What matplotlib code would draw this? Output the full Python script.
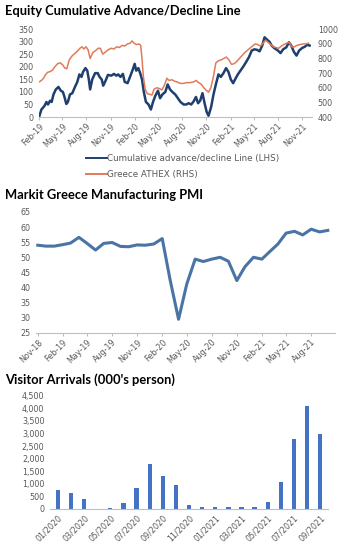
import matplotlib
matplotlib.use('Agg')
import matplotlib.pyplot as plt
import matplotlib.dates as mdates
import matplotlib.ticker as mticker
import pandas as pd

# ---- data: equity advance/decline line (LHS) ----
ad_dates = ['2019-02-01', '2019-02-10', '2019-02-22', '2019-03-01', '2019-03-07', '2019-03-15',
            '2019-03-21', '2019-03-28', '2019-04-06', '2019-04-16', '2019-04-25', '2019-05-03',
            '2019-05-09', '2019-05-16', '2019-05-22', '2019-05-30', '2019-06-08', '2019-06-18',
            '2019-06-27', '2019-07-05', '2019-07-13', '2019-07-19', '2019-07-28', '2019-08-04',
            '2019-08-10', '2019-08-15', '2019-08-23', '2019-09-03', '2019-09-13', '2019-09-20',
            '2019-09-28', '2019-10-04', '2019-10-13', '2019-10-22', '2019-11-04', '2019-11-14',
            '2019-11-23', '2019-11-30', '2019-12-09', '2019-12-18', '2019-12-25', '2020-01-05',
            '2020-01-16', '2020-01-25', '2020-02-01', '2020-02-07', '2020-02-15', '2020-02-22',
            '2020-02-29', '2020-03-07', '2020-03-15', '2020-03-25', '2020-04-03', '2020-04-11',
            '2020-04-20', '2020-04-30', '2020-05-08', '2020-05-17', '2020-05-28', '2020-06-06',
            '2020-06-15', '2020-06-24', '2020-07-05', '2020-07-15', '2020-07-25', '2020-08-06',
            '2020-08-16', '2020-08-25', '2020-09-04', '2020-09-13', '2020-09-22', '2020-09-30',
            '2020-10-08', '2020-10-17', '2020-10-25', '2020-11-02', '2020-11-09', '2020-11-19',
            '2020-11-28', '2020-12-07', '2020-12-17', '2020-12-26', '2021-01-05', '2021-01-15',
            '2021-01-24', '2021-02-02', '2021-02-11', '2021-02-21', '2021-03-01', '2021-03-11',
            '2021-03-21', '2021-04-02', '2021-04-13', '2021-04-23', '2021-05-03', '2021-05-13',
            '2021-05-23', '2021-06-02', '2021-06-11', '2021-06-21', '2021-06-30', '2021-07-08',
            '2021-07-18', '2021-08-01', '2021-08-11', '2021-08-21', '2021-09-02', '2021-09-12',
            '2021-09-21', '2021-10-01', '2021-10-11', '2021-10-21', '2021-11-01', '2021-11-11',
            '2021-11-21', '2021-11-30']
ad_values = [0, 30, 45, 60, 50, 65, 60, 90, 110, 120, 105, 100, 80, 52, 60, 90, 95, 120,
             140, 170, 160, 180, 195, 185, 150, 110, 150, 175, 175, 160, 150, 125, 145, 168,
             165, 172, 165, 170, 160, 172, 140, 135, 165, 190, 212, 185, 195, 175, 150, 100,
             60, 50, 30, 60, 85, 105, 75, 90, 100, 130, 110, 100, 90, 75, 60, 50, 50, 55, 50,
             62, 80, 55, 65, 95, 55, 20, 5, 40, 90, 130, 170, 160, 175, 195, 180, 150, 135,
             155, 170, 185, 200, 220, 240, 265, 270, 268, 262, 285, 318, 308, 300, 285, 275,
             265, 255, 270, 278, 298, 285, 260, 245, 265, 275, 280, 288, 285]

# ---- data: Greece ATHEX (RHS) ----
athex_dates = ['2019-02-01', '2019-02-10', '2019-02-18', '2019-02-26', '2019-03-05', '2019-03-14',
               '2019-03-24', '2019-04-03', '2019-04-13', '2019-04-23', '2019-05-03', '2019-05-10',
               '2019-05-18', '2019-05-27', '2019-06-08', '2019-06-18', '2019-06-27', '2019-07-07',
               '2019-07-15', '2019-07-22', '2019-07-30', '2019-08-07', '2019-08-15', '2019-08-25',
               '2019-09-05', '2019-09-15', '2019-09-23', '2019-10-02', '2019-10-13', '2019-10-23',
               '2019-11-04', '2019-11-14', '2019-11-24', '2019-12-05', '2019-12-15', '2019-12-25',
               '2020-01-05', '2020-01-15', '2020-01-22', '2020-01-30', '2020-02-07', '2020-02-17',
               '2020-02-24', '2020-02-29', '2020-03-05', '2020-03-12', '2020-03-20', '2020-03-30',
               '2020-04-07', '2020-04-15', '2020-04-25', '2020-05-05', '2020-05-15', '2020-05-25',
               '2020-06-03', '2020-06-12', '2020-06-22', '2020-07-02', '2020-07-12', '2020-07-24',
               '2020-08-06', '2020-08-18', '2020-08-31', '2020-09-13', '2020-09-23', '2020-10-02',
               '2020-10-12', '2020-10-22', '2020-11-02', '2020-11-09', '2020-11-18', '2020-11-28',
               '2020-12-07', '2020-12-17', '2020-12-27', '2021-01-06', '2021-01-16', '2021-01-26',
               '2021-02-05', '2021-02-15', '2021-02-25', '2021-03-07', '2021-03-17', '2021-03-27',
               '2021-04-06', '2021-04-16', '2021-04-26', '2021-05-06', '2021-05-16', '2021-05-26',
               '2021-06-05', '2021-06-15', '2021-06-25', '2021-07-05', '2021-07-15', '2021-07-25',
               '2021-08-04', '2021-08-14', '2021-08-24', '2021-09-03', '2021-09-13', '2021-09-23',
               '2021-10-03', '2021-10-13', '2021-10-23', '2021-11-06', '2021-11-16', '2021-11-26']
athex_values = [640, 650, 665, 690, 705, 710, 720, 745, 765, 770, 755, 735, 730, 790, 820, 835,
                850, 870, 880, 865, 880, 860, 800, 840, 855, 870, 870, 830, 845, 860, 870, 865,
                880, 875, 890, 885, 900, 905, 920, 905, 895, 900, 890, 800, 680, 590, 560, 555,
                550, 590, 600, 595, 585, 620, 665, 650, 655, 645, 640, 630, 630, 635, 635, 640,
                650, 635, 625, 600, 580, 570, 600, 680, 770, 785, 790, 800, 810, 790, 760, 765,
                780, 800, 820, 840, 855, 870, 885, 900, 895, 885, 905, 925, 910, 895, 880, 875,
                870, 885, 895, 905, 910, 880, 880, 890, 895, 900, 900, 905]

# ---- data: Markit Greece Manufacturing PMI ----
pmi_months = pd.date_range('2018-11-01', '2021-10-01', freq='MS')
pmi_values = [54.0, 53.7, 53.7, 54.2, 54.7, 56.6, 54.6, 52.4, 54.6, 54.9, 53.6, 53.5,
              54.1, 54.0, 54.4, 56.2, 42.5, 29.5, 41.1, 49.4, 48.6, 49.4, 50.0, 48.7,
              42.3, 46.9, 50.0, 49.4, 51.8, 54.4, 58.0, 58.6, 57.4, 59.3, 58.4, 58.9]

# ---- data: visitor arrivals (000's) ----
arr_labels = ['01/2020', '02/2020', '03/2020', '04/2020', '05/2020', '06/2020', '07/2020',
              '08/2020', '09/2020', '10/2020', '11/2020', '12/2020', '01/2021', '02/2021',
              '03/2021', '04/2021', '05/2021', '06/2021', '07/2021', '08/2021', '09/2021']
arr_values = [770, 620, 390, 10, 30, 250, 820, 1780, 1320, 940, 160, 80, 70, 70, 80, 95,
              280, 1060, 2800, 4080, 2970]

plt.rcParams['font.family'] = ['DejaVu Sans']
TITLE_FONT = ['Lato', 'DejaVu Sans']
GREY = '#595959'
AXIS = '#BFBFBF'
FS = 5.8

fig = plt.figure(figsize=(3.52, 5.52), dpi=100)


def style(ax):
    for s in ['top', 'right', 'left']:
        ax.spines[s].set_visible(False)
    ax.spines['bottom'].set_color(AXIS)
    ax.spines['bottom'].set_linewidth(0.8)
    ax.tick_params(axis='y', length=0, labelsize=FS, labelcolor=GREY, pad=4)
    ax.tick_params(axis='x', length=2.5, color=AXIS, labelsize=FS, labelcolor=GREY, pad=1)
    for lab in ax.get_xticklabels():
        lab.set_rotation(45)
        lab.set_ha('right')
        lab.set_rotation_mode('anchor')


# ---- panel 1 ----
fig.text(0.014, 0.98, 'Equity Cumulative Advance/Decline Line', fontsize=9.3,
         fontweight='bold', va='center', ha='left', family=TITLE_FONT)
ax1 = fig.add_axes([0.111, 0.788, 0.776, 0.159])
ad_x = pd.to_datetime(ad_dates)
at_x = pd.to_datetime(athex_dates)
l1, = ax1.plot(ad_x, ad_values, color='#1F3F6E', lw=1.8)
ax1.set_ylim(0, 350)
ax1.set_yticks(range(0, 351, 50))
ax1b = ax1.twinx()
l2, = ax1b.plot(at_x, athex_values, color='#E07B5A', lw=1.1)
ax1b.set_ylim(400, 1000)
ax1b.set_yticks(range(400, 1001, 100))
ax1.set_xlim(pd.Timestamp('2019-02-01'), pd.Timestamp('2021-12-10'))
ax1.xaxis.set_major_locator(mdates.MonthLocator(bymonth=[2, 5, 8, 11]))
ax1.xaxis.set_major_formatter(mdates.DateFormatter('%b-%y'))
style(ax1)
for s in ['top', 'right', 'left', 'bottom']:
    ax1b.spines[s].set_visible(False)
ax1b.tick_params(axis='y', length=0, labelsize=FS, labelcolor=GREY, pad=4)
leg = fig.legend([l1, l2], ['Cumulative advance/decline Line (LHS)', 'Greece ATHEX (RHS)'],
                 loc='upper left', bbox_to_anchor=(0.233, 0.728), frameon=False, fontsize=6.3,
                 labelcolor=GREY, handlelength=2.4, handletextpad=0.1, labelspacing=0.8,
                 borderaxespad=0)
for h in leg.get_lines():
    h.set_linewidth(1.4)

# ---- panel 2 ----
fig.text(0.014, 0.647, 'Markit Greece Manufacturing PMI', fontsize=9.3,
         fontweight='bold', va='center', ha='left', family=TITLE_FONT)
ax2 = fig.add_axes([0.102, 0.397, 0.85, 0.219])
ax2.plot(pmi_months, pmi_values, color='#4A74A6', lw=2.2)
ax2.set_ylim(25, 65)
ax2.set_yticks(range(25, 66, 5))
ax2.set_xlim(pd.Timestamp('2018-10-25'), pd.Timestamp('2021-10-28'))
ax2.xaxis.set_major_locator(mdates.MonthLocator(bymonth=[2, 5, 8, 11]))
ax2.xaxis.set_major_formatter(mdates.DateFormatter('%b-%y'))
style(ax2)

# ---- panel 3 ----
fig.text(0.014, 0.313, "Visitor Arrivals (000's person)", fontsize=9.3,
         fontweight='bold', va='center', ha='left', family=TITLE_FONT)
ax3 = fig.add_axes([0.142, 0.078, 0.79, 0.205])
pos = range(len(arr_labels))
ax3.bar(pos, arr_values, width=0.33, color='#4472C4')
ax3.set_ylim(0, 4500)
ax3.set_yticks(range(0, 4501, 500))
ax3.yaxis.set_major_formatter(mticker.StrMethodFormatter('{x:,.0f}'))
ax3.set_xlim(-0.6, len(arr_labels) - 0.4)
ax3.set_xticks(list(pos)[::2])
ax3.set_xticklabels(arr_labels[::2])
style(ax3)
ax3.tick_params(axis='x', length=0, pad=3)

fig.savefig('out.png', dpi=100)
